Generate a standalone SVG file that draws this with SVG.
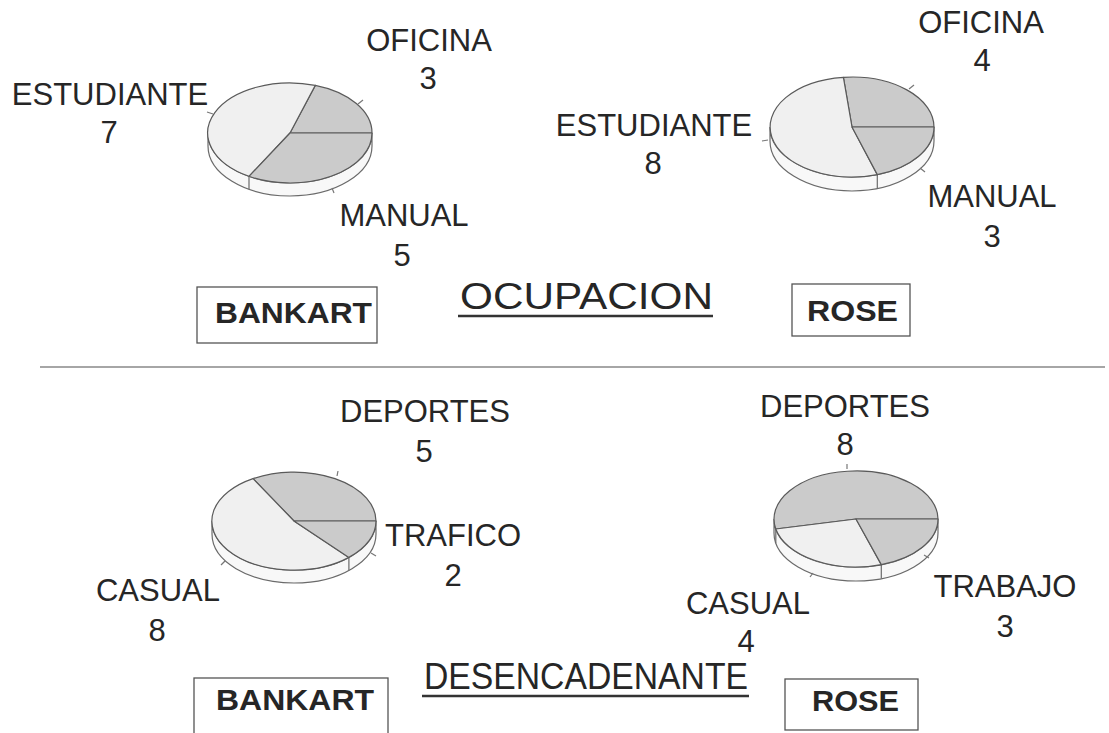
<svg xmlns="http://www.w3.org/2000/svg" width="1109" height="733" viewBox="0 0 1109 733">
<style>
.lbl{font-family:"Liberation Sans",Arial,sans-serif;font-size:31px;fill:#262626;text-anchor:middle}
.ttl{font-family:"Liberation Sans",Arial,sans-serif;font-size:36px;fill:#262626}
.box{fill:none;stroke:#555;stroke-width:1.3}
.bt{font-family:"Liberation Sans",Arial,sans-serif;font-size:29px;font-weight:bold;fill:#262626}
.dk{fill:#cbcbcb;stroke:#5a5a5a;stroke-width:1.2;stroke-linejoin:round}
.lt{fill:#f0f0f0;stroke:#5a5a5a;stroke-width:1.2;stroke-linejoin:round}
.side{fill:#f8f8f8;stroke:#6a6a6a;stroke-width:1.2}
.div{stroke:#6a6a6a;stroke-width:1.2}
.tick{stroke:#777;stroke-width:1.2}
.ul{stroke:#333;stroke-width:2.5}
</style>
<rect width="1109" height="733" fill="#fff"/>

<!-- Pie 1: BANKART OCUPACION -->
<g id="pie-bankart-ocupacion">
<path class="side" d="M208,133 L208,146 A82,50 0 0,0 372,146 L372,133 A82,50 0 0,1 208,133 Z"/>
<line class="div" x1="249" y1="176.3" x2="249" y2="189.3"/>
<path class="dk" d="M290,133 L372,133 A82,50 0 0,0 315.3,85.4 Z"/>
<path class="lt" d="M290,133 L315.3,85.4 A82,50 0 0,0 249,176.3 Z"/>
<path class="dk" d="M290,133 L249,176.3 A82,50 0 0,0 372,133 Z"/>
</g>

<!-- Pie 2: ROSE OCUPACION -->
<g id="pie-rose-ocupacion">
<path class="side" d="M770,127 L770,141 A82,50 0 0,0 934,141 L934,127 A82,50 0 0,1 770,127 Z"/>
<line class="div" x1="877.3" y1="174.6" x2="877.3" y2="188.6"/>
<path class="dk" d="M852,127 L934,127 A82,50 0 0,0 843.4,77.3 Z"/>
<path class="lt" d="M852,127 L843.4,77.3 A82,50 0 1,0 877.3,174.6 Z"/>
<path class="dk" d="M852,127 L877.3,174.6 A82,50 0 0,0 934,127 Z"/>
</g>

<!-- Pie 3: BANKART DESENCADENANTE -->
<g id="pie-bankart-desencadenante">
<path class="side" d="M212,521 L212,534 A82,49 0 0,0 376,534 L376,521 A82,49 0 0,1 212,521 Z"/>
<line class="div" x1="348.9" y1="557.4" x2="348.9" y2="570.4"/>
<path class="dk" d="M294,521 L376,521 A82,49 0 0,0 253,478.6 Z"/>
<path class="lt" d="M294,521 L253,478.6 A82,49 0 1,0 348.9,557.4 Z"/>
<path class="dk" d="M294,521 L348.9,557.4 A82,49 0 0,0 376,521 Z"/>
</g>

<!-- Pie 4: ROSE DESENCADENANTE -->
<g id="pie-rose-desencadenante">
<path class="side" d="M774,519 L774,533 A82,48 0 0,0 938,533 L938,519 A82,48 0 0,1 774,519 Z"/>
<line class="div" x1="775.8" y1="529" x2="775.8" y2="543"/>
<line class="div" x1="881.3" y1="564.6" x2="881.3" y2="578.6"/>
<path class="dk" d="M856,519 L938,519 A82,48 0 1,0 775.8,529 Z"/>
<path class="lt" d="M856,519 L775.8,529 A82,48 0 0,0 881.3,564.6 Z"/>
<path class="dk" d="M856,519 L881.3,564.6 A82,48 0 0,0 938,519 Z"/>
</g>

<!-- small label ticks -->
<g id="connectors">
<line class="tick" x1="358" y1="104" x2="363" y2="100"/>
<line class="tick" x1="213" y1="114" x2="207" y2="112"/>
<line class="tick" x1="332" y1="188" x2="334" y2="193"/>
<line class="tick" x1="909" y1="89" x2="914" y2="85"/>
<line class="tick" x1="768" y1="140" x2="762" y2="141"/>
<line class="tick" x1="920" y1="168" x2="925" y2="172"/>
<line class="tick" x1="337" y1="476" x2="338" y2="471"/>
<line class="tick" x1="225" y1="561" x2="221" y2="565"/>
<line class="tick" x1="371" y1="553" x2="376" y2="556"/>
<line class="tick" x1="847" y1="469" x2="847" y2="464"/>
<line class="tick" x1="813" y1="573" x2="810" y2="577"/>
<line class="tick" x1="924" y1="555" x2="929" y2="558"/>
</g>

<!-- labels -->
<g id="lbl-oficina-1"><text class="lbl" x="429" y="51">OFICINA</text><text class="lbl" x="428" y="89">3</text></g>
<g id="lbl-estudiante-1"><text class="lbl" x="110" y="105">ESTUDIANTE</text><text class="lbl" x="109" y="143">7</text></g>
<g id="lbl-manual-1"><text class="lbl" x="404" y="226">MANUAL</text><text class="lbl" x="402" y="266">5</text></g>

<g id="lbl-oficina-2"><text class="lbl" x="981" y="33">OFICINA</text><text class="lbl" x="982" y="71">4</text></g>
<g id="lbl-estudiante-2"><text class="lbl" x="654" y="136">ESTUDIANTE</text><text class="lbl" x="653" y="174">8</text></g>
<g id="lbl-manual-2"><text class="lbl" x="992" y="207">MANUAL</text><text class="lbl" x="992" y="247">3</text></g>

<g id="lbl-deportes-1"><text class="lbl" x="425" y="422">DEPORTES</text><text class="lbl" x="424" y="462">5</text></g>
<g id="lbl-trafico"><text class="lbl" x="453" y="546">TRAFICO</text><text class="lbl" x="453" y="586">2</text></g>
<g id="lbl-casual-1"><text class="lbl" x="158" y="601">CASUAL</text><text class="lbl" x="157" y="641">8</text></g>

<g id="lbl-deportes-2"><text class="lbl" x="845" y="417">DEPORTES</text><text class="lbl" x="845" y="455">8</text></g>
<g id="lbl-casual-2"><text class="lbl" x="748" y="614">CASUAL</text><text class="lbl" x="746" y="652">4</text></g>
<g id="lbl-trabajo"><text class="lbl" x="1005" y="597">TRABAJO</text><text class="lbl" x="1005" y="637">3</text></g>

<!-- titles -->
<g id="title-ocupacion">
<text class="ttl" x="460" y="309" textLength="253" lengthAdjust="spacingAndGlyphs">OCUPACION</text>
<line class="ul" x1="458" y1="316" x2="713" y2="316"/>
</g>
<g id="title-desencadenante">
<text class="ttl" x="424" y="689" textLength="324" lengthAdjust="spacingAndGlyphs">DESENCADENANTE</text>
<line class="ul" x1="422" y1="696" x2="749" y2="696"/>
</g>

<!-- separator -->
<line x1="40" y1="367" x2="1105" y2="367" stroke="#888" stroke-width="1.5"/>

<!-- boxes -->
<g id="box-bankart-1"><rect class="box" x="197" y="287" width="180" height="56"/><text class="bt" x="215" y="323" textLength="157" lengthAdjust="spacingAndGlyphs">BANKART</text></g>
<g id="box-rose-1"><rect class="box" x="792" y="284" width="118" height="52"/><text class="bt" x="807" y="321" textLength="91" lengthAdjust="spacingAndGlyphs">ROSE</text></g>
<g id="box-bankart-2"><rect class="box" x="194" y="678" width="194" height="60"/><text class="bt" x="216" y="710" textLength="158" lengthAdjust="spacingAndGlyphs">BANKART</text></g>
<g id="box-rose-2"><rect class="box" x="785" y="679" width="133" height="51"/><text class="bt" x="812" y="711" textLength="87" lengthAdjust="spacingAndGlyphs">ROSE</text></g>
</svg>
